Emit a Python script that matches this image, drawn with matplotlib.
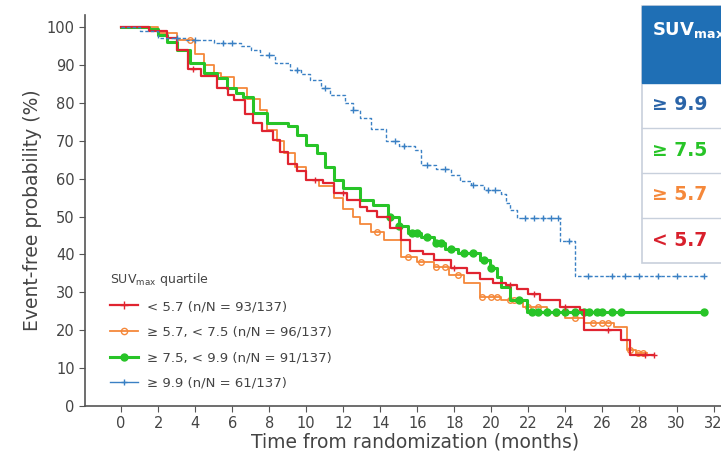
import numpy as np
import matplotlib.pyplot as plt
from matplotlib.lines import Line2D
from matplotlib.patches import Rectangle

# === data ===
red_t = [0, 1.5, 2.5, 3.0, 3.6, 4.3, 5.2, 5.8, 6.1, 6.7, 7.1, 7.6, 8.2, 8.6, 9.0, 9.5, 10.0, 10.9,
         11.5, 12.2, 12.9, 13.3, 13.8, 14.5, 15.1, 15.6, 16.3, 16.9, 17.8, 18.7, 19.4, 20.1, 20.8,
         21.4, 22.0, 22.6, 23.7, 24.8, 25.0, 27.0, 27.5]
red_s = [100, 99, 97, 94, 89, 87, 84, 82, 80.7, 77, 74.7, 72.5, 70.2, 67, 64, 62, 59.6, 58.8,
         56.2, 54.5, 52.5, 51.5, 50, 47, 43.8, 41, 40, 38.5, 36.5, 35, 33.5, 32.5, 32,
         31, 29.5, 28, 26, 25.3, 20, 17.5, 13.4]
red_end = 28.8
red_c = [3.9, 10.5, 12.0, 18.0, 21.0, 22.3, 24.0, 26.3, 28.3, 28.8]

orange_t = [0, 2.0, 3.0, 4.0, 4.5, 5.0, 5.4, 6.1, 6.8, 7.5, 7.9, 8.4, 8.8, 9.4, 10.0, 10.7, 11.5,
            12.0, 12.5, 12.9, 13.5, 14.2, 15.1, 16.0, 16.9, 17.7, 18.5, 19.4, 20.5, 21.7, 23.0,
            24.0, 25.0, 26.6, 27.3, 27.8]
orange_s = [100, 98.5, 96.5, 93, 90, 88, 86.8, 84, 81, 78, 72.8, 70, 66.7, 63, 59.6, 58, 55,
            52, 50, 48, 46, 43.8, 39.3, 38, 36.7, 34.5, 32.5, 28.8, 28, 26, 24.5,
            23.3, 21.9, 20.8, 14.8, 14]
orange_end = 28.4
orange_c = [3.7, 13.8, 15.5, 16.2, 17.0, 17.5, 18.2, 19.5, 20.0, 20.3, 21.0, 21.2, 22.0, 22.5,
            23.5, 24.5, 25.5, 26.0, 26.3, 27.5, 27.9, 28.2]

green_t = [0, 1.5, 2.0, 2.5, 3.0, 3.7, 4.5, 5.2, 5.7, 6.2, 6.6, 7.1, 7.9, 9.0, 9.5, 10.0, 10.6,
           11.0, 11.5, 12.0, 12.9, 13.6, 14.4, 15.0, 15.5, 16.2, 16.9, 17.5, 18.2, 19.4, 19.9,
           20.3, 20.5, 21.0, 21.9]
green_s = [100, 99.5, 98, 96, 94, 90.5, 88, 86.5, 84, 82.5, 81.5, 77.3, 74.7, 74, 71.5, 69, 66.7,
           63, 59.6, 57.5, 54.4, 53, 50, 47.5, 45.6, 44.5, 43, 41.5, 40.4, 38.5, 36.5,
           34, 31.4, 28, 24.8]
green_end = 31.5
green_c = [14.5, 15.0, 15.7, 16.0, 16.5, 17.0, 17.3, 17.8, 18.5, 19.0, 19.6, 20.0, 21.5, 22.2,
           22.5, 23.0, 23.5, 24.0, 24.5, 25.0, 25.3, 25.7, 26.0, 26.5, 27.0, 31.5]

blue_t = [0, 1.0, 2.0, 3.5, 5.0, 6.5, 7.0, 7.5, 8.3, 9.1, 9.7, 10.2, 10.8, 11.3, 12.1, 12.5, 12.9,
          13.5, 14.3, 15.0, 15.9, 16.2, 17.0, 17.8, 18.3, 18.9, 19.6, 20.5, 20.8, 21.0, 21.4,
          23.7, 24.5]
blue_s = [100, 99, 97, 96.5, 95.8, 95, 94, 92.6, 90.5, 88.6, 87.5, 86, 84, 82, 80, 78, 76,
          73, 70, 68.5, 67.5, 63.6, 62.5, 61, 59.5, 58.3, 57, 56, 53.5, 51.7, 49.6,
          43.5, 34.3]
blue_end = 31.5
blue_c = [3.0, 4.0, 5.5, 6.0, 8.0, 9.5, 11.0, 12.5, 14.8, 15.3, 16.5, 17.5, 19.0, 19.8, 20.2,
          21.8, 22.3, 22.8, 23.2, 23.6, 24.2, 25.2, 26.5, 27.2, 28.0, 29.0, 30.0, 31.5]

labels = ["< 5.7 (n/N = 93/137)", "\u2265 5.7, < 7.5 (n/N = 96/137)",
          "\u2265 7.5, < 9.9 (n/N = 91/137)", "\u2265 9.9 (n/N = 61/137)"]
table_rows = ["\u2265 9.9", "\u2265 7.5", "\u2265 5.7", "< 5.7"]

RED, ORANGE, GREEN, BLUE = "#e02430", "#f5883a", "#27c427", "#3a80c4"
TXT = "#444444"

fig = plt.figure(figsize=(7.21, 4.66), dpi=100)
ax = fig.add_axes([85 / 721, 1 - 406 / 466, 660 / 721, 391 / 466])


def km(t, s, end, cens, color, lw, ls, marker, ms, mfc, z):
    tt = list(t) + [end]
    ss = list(s) + [s[-1]]
    ax.step(tt, ss, where="post", color=color, lw=lw, ls=ls, zorder=z)
    idx = np.searchsorted(t, cens, side="right") - 1
    cy = np.array(s)[idx]
    ax.plot(cens, cy, ls="none", marker=marker, ms=ms, color=color, mfc=mfc,
            mew=1.0, zorder=z)


km(orange_t, orange_s, orange_end, orange_c, ORANGE, 1.3, "-", "o", 4, "none", 2)
km(green_t, green_s, green_end, green_c, GREEN, 2.2, "-", "o", 5, GREEN, 3)
km(red_t, red_s, red_end, red_c, RED, 1.6, "-", "+", 5, RED, 4)
km(blue_t, blue_s, blue_end, blue_c, BLUE, 1.0, (0, (2.5, 1.5)), "+", 4, BLUE, 5)

ax.set_xlim(-1.95, 33.7)
ax.set_ylim(0, 103.2)
ax.set_xticks(np.arange(0, 33, 2))
ax.set_yticks(np.arange(0, 101, 10))
ax.spines["top"].set_visible(False)
ax.spines["right"].set_visible(False)
for sp in ("left", "bottom"):
    ax.spines[sp].set_color("#555555")
    ax.spines[sp].set_linewidth(1.2)
ax.tick_params(colors="#555555", labelcolor=TXT, labelsize=10.5, length=4)
ax.set_ylabel("Event-free probability (%)", fontsize=13.5, color=TXT, labelpad=3)
ax.set_xlabel("Time from randomization (months)", fontsize=13.5, color=TXT, labelpad=1)

handles = [
    Line2D([], [], color=RED, lw=1.6, marker="+", ms=6),
    Line2D([], [], color=ORANGE, lw=1.3, marker="o", ms=4.5, mfc="none"),
    Line2D([], [], color=GREEN, lw=2.2, marker="o", ms=5),
    Line2D([], [], color=BLUE, lw=1.0, marker="+", ms=5),
]
leg = ax.legend(handles, labels, title="SUV$_{\\mathregular{max}}$ quartile",
                loc="upper left", bbox_to_anchor=(0.03, 0.36), frameon=False,
                fontsize=9.5, title_fontsize=9, handlelength=2.1, handletextpad=0.7,
                labelspacing=0.95, alignment="left", borderaxespad=0)
for t in leg.get_texts():
    t.set_color(TXT)
leg.get_title().set_color(TXT)

# === table on the right (cut by the figure edge) ===
W, H = 721, 466
x0, x1 = 642, 760
fig.patches.append(Rectangle((x0 / W, 1 - 263 / H), (x1 - x0) / W, 257 / H,
                             transform=fig.transFigure, fc="white", ec="#c8d0dc", lw=1.2))
fig.patches.append(Rectangle((x0 / W, 1 - 83 / H), (x1 - x0) / W, 77 / H,
                             transform=fig.transFigure, fc="#1f6fb5", ec="#1f6fb5"))
fig.text(652 / W, 1 - 30 / H, "SUV$_{\\mathbf{max}}$", color="white", fontsize=13,
         fontweight="bold", va="center", ha="left")
row_colors = ["#2a64a8", GREEN, ORANGE, "#d8202c"]
for i, (lab, c) in enumerate(zip(table_rows, row_colors)):
    ytop = 83 + 45 * i
    if i > 0:
        fig.add_artist(Line2D([x0 / W, 1], [1 - ytop / H] * 2, transform=fig.transFigure,
                              color="#c8d0dc", lw=1.0))
    fig.text(652 / W, 1 - (ytop + 22) / H, lab, color=c, fontsize=13.5,
             fontweight="bold", va="center", ha="left")

fig.savefig("out.png", dpi=100)
